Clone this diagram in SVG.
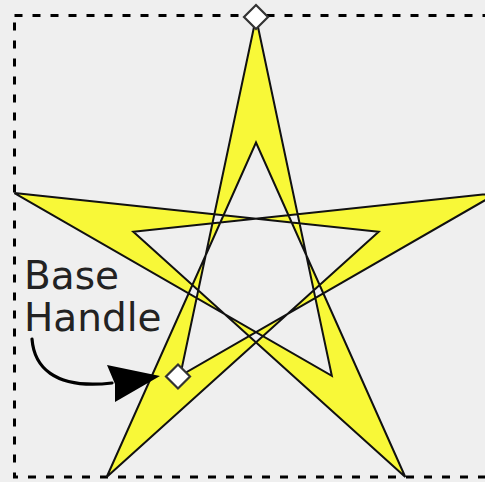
<svg xmlns="http://www.w3.org/2000/svg" width="485" height="482" viewBox="0 0 485 482">
<style>
.bg{fill:#efefef}
.bbox{fill:none;stroke:#000;stroke-width:3;stroke-dasharray:8 10}
.star{fill:#f8f838;stroke:#111;stroke-width:2;fill-rule:evenodd;stroke-linejoin:miter}
.handle{fill:#fff;stroke:#333;stroke-width:2.2}
.label{font-family:"DejaVu Sans",sans-serif;font-size:39px;fill:#222}
.conn{fill:none;stroke:#000;stroke-width:3.2;stroke-linecap:round}
</style>
<rect class="bg" x="0" y="0" width="485" height="482"/>
<rect id="bbox" class="bbox" x="14.5" y="15.5" width="500" height="461.5"/>
<g id="star">
<path class="star" d="M256,17.5 L180.18,375.86 L497.57,193.01 L133.31,231.64 L405.3,476.99 L256,142.5 L106.7,476.99 L378.69,231.64 L14.43,193.01 L331.82,375.86 Z"/>
</g>
<g id="tip-handle">
<path class="handle" d="M256,5 L268,17 L256,29 L244,17 Z"/>
</g>
<g id="base-handle">
<path class="handle" d="M178,364.5 L190,376.5 L178,388.5 L166,376.5 Z"/>
</g>
<g id="label">
<text class="label" x="24" y="289">Base</text>
<text class="label" x="24" y="331">Handle</text>
</g>
<g id="connectors">
<path class="conn" d="M32,339 C34,365 52,390 112,383"/>
<path d="M160,376 L107,365 L115,384 L115,402 Z" fill="#000"/>
</g>
</svg>
